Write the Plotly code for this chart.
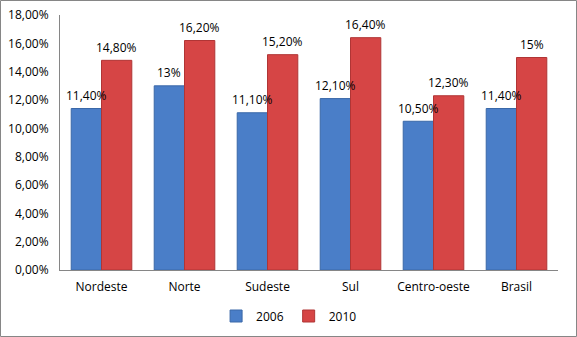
import plotly.graph_objects as go

categories = ["Nordeste", "Norte", "Sudeste", "Sul", "Centro-oeste", "Brasil"]
values_2006 = [11.4, 13.0, 11.1, 12.1, 10.5, 11.4]
values_2010 = [14.8, 16.2, 15.2, 16.4, 12.3, 15.0]
labels_2006 = ["11,40%", "13%", "11,10%", "12,10%", "10,50%", "11,40%"]
labels_2010 = ["14,80%", "16,20%", "15,20%", "16,40%", "12,30%", "15%"]
tick_vals = [0, 2, 4, 6, 8, 10, 12, 14, 16, 18]
tick_text = ["0,00%", "2,00%", "4,00%", "6,00%", "8,00%", "10,00%", "12,00%", "14,00%", "16,00%", "18,00%"]

W, H = 577, 337
ml, mr, mt, mb = 60, 19, 15, 67
pw, ph = W - ml - mr, H - mt - mb
bargap = 0.27
half = pw / len(categories) * (1 - bargap) / 4  # offset of each bar centre

font = dict(family="Open Sans, DejaVu Sans, sans-serif", size=12, color="#000000")

fig = go.Figure()
fig.add_trace(go.Bar(
    x=categories, y=values_2006, name="2006",
    marker=dict(color="#4a7ec8", line=dict(color="#3a68a8", width=1)),
))
fig.add_trace(go.Bar(
    x=categories, y=values_2010, name="2010",
    marker=dict(color="#d64545", line=dict(color="#b03535", width=1)),
))

for cat, v, t in zip(categories, values_2006, labels_2006):
    fig.add_annotation(x=cat, y=v, text=t, xshift=-half, yshift=13, showarrow=False,
                       yanchor="middle", font=font)
for cat, v, t in zip(categories, values_2010, labels_2010):
    fig.add_annotation(x=cat, y=v, text=t, xshift=half, yshift=13, showarrow=False,
                       yanchor="middle", font=font)

fig.update_layout(
    width=W, height=H,
    margin=dict(l=ml, r=mr, t=mt, b=mb, autoexpand=False),
    paper_bgcolor="white", plot_bgcolor="white",
    font=font,
    barmode="group", bargap=bargap, bargroupgap=0.0,
    showlegend=True,
    legend=dict(orientation="h", x=0.46, xanchor="center",
                y=-(316 - 270) / ph, yanchor="middle",
                bgcolor="rgba(0,0,0,0)", font=dict(size=12),
                itemwidth=30, tracegroupgap=0),
    xaxis=dict(showline=True, linecolor="#868686", linewidth=1, ticks="",
               tickfont=font, showgrid=False, ticklabelstandoff=6),
    yaxis=dict(range=[0, 18], tickvals=tick_vals, ticktext=tick_text,
               showline=True, linecolor="#868686", linewidth=1, showgrid=False,
               zeroline=False, ticks="", tickfont=font, ticklabelstandoff=8),
)

# outer chart border
fig.add_shape(type="rect", xref="paper", yref="paper",
              x0=(0.5 - ml) / pw, x1=(W - 0.5 - ml) / pw,
              y0=-(mb - 0.5) / ph, y1=(ph + mt - 0.5) / ph,
              line=dict(color="#868686", width=1), fillcolor="rgba(0,0,0,0)", layer="above")

fig.write_html("out.html")
